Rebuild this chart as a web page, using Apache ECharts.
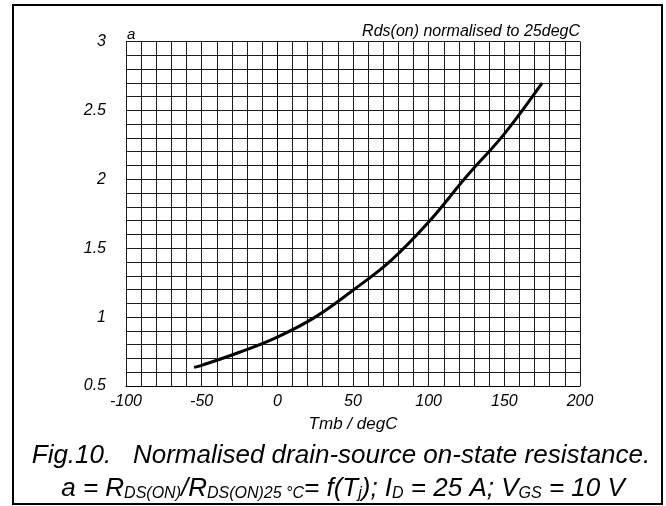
<!DOCTYPE html>
<html>
<head>
<meta charset="utf-8">
<script src="https://cdn.jsdelivr.net/npm/echarts@6/dist/echarts.min.js"></script>
<style>
html,body{margin:0;padding:0;background:#fff;}
#c{width:666px;height:506px;}
</style>
</head>
<body>
<div id="c"></div>
<script>
// Data
const tempC = [-55, -50, -25, 0, 25, 50, 75, 100, 125, 150, 175];
const aValues = [0.635, 0.65, 0.745, 0.855, 1.0, 1.195, 1.41, 1.69, 2.02, 2.33, 2.7];
const xTickLabels = [-100, -50, 0, 50, 100, 150, 200];
const yTickLabels = [0.5, 1, 1.5, 2, 2.5, 3];

const FONT = "'Liberation Sans', Arial, sans-serif";
const chart = echarts.init(document.getElementById('c'), null, {renderer: 'canvas'});

function isLabel(v, list) {
  return list.some(t => Math.abs(t - v) < 1e-6);
}

const option = {
  animation: false,
  backgroundColor: '#fff',
  grid: {left: 126, right: 86, top: 41.5, bottom: 120, containLabel: false},
  xAxis: {
    type: 'value', min: -100, max: 200, interval: 10,
    name: 'Tmb / degC', nameLocation: 'middle', nameGap: 30,
    nameTextStyle: {fontFamily: FONT, fontStyle: 'italic', fontSize: 17, color: '#000'},
    axisLine: {show: true, lineStyle: {color: '#000', width: 1}},
    axisTick: {show: false},
    axisLabel: {
      margin: 8, fontFamily: FONT, fontStyle: 'italic', fontSize: 16, color: '#000',
      showMinLabel: true, showMaxLabel: true, hideOverlap: false,
      formatter: v => isLabel(v, xTickLabels) ? String(Math.round(v)) : ''
    },
    splitLine: {show: true, lineStyle: {color: '#1a1a1a', width: 1}}
  },
  yAxis: {
    type: 'value', min: 0.5, max: 3, interval: 0.1,
    axisLine: {show: true, lineStyle: {color: '#000', width: 1}},
    axisTick: {show: false},
    axisLabel: {
      margin: 20, fontFamily: FONT, fontStyle: 'italic', fontSize: 16, color: '#000',
      showMinLabel: true, showMaxLabel: true, hideOverlap: false,
      formatter: v => {
        const f = yTickLabels.find(t => Math.abs(t - v) < 1e-6);
        return f === undefined ? '' : String(f);
      }
    },
    splitLine: {show: true, lineStyle: {color: '#1a1a1a', width: 1}}
  },
  series: [{
    type: 'line',
    data: tempC.map((t, i) => [t, aValues[i]]),
    smooth: 0.4,
    showSymbol: false,
    lineStyle: {color: '#000', width: 3},
    z: 5
  }],
  graphic: [
    {type: 'rect', shape: {x: 13, y: 5, width: 649, height: 499},
     style: {fill: 'none', stroke: '#000', lineWidth: 2}, z: 10, silent: true},
    {type: 'text', left: 127, top: 27,
     style: {text: 'a', font: 'italic 15px ' + FONT, fill: '#000'}},
    {type: 'text', right: 86, top: 24,
     style: {text: 'Rds(on) normalised to 25degC', font: 'italic 16px ' + FONT, fill: '#000', textAlign: 'right'}},
    {type: 'text', x: 341, y: 456,
     style: {text: 'Fig.10.   Normalised drain-source on-state resistance.', font: 'italic 26px ' + FONT,
             fill: '#000', textAlign: 'center', textVerticalAlign: 'middle'}},
    {type: 'text', x: 343, y: 487,
     style: {
       text: '{n|a = R}{s|DS(ON)}{n|/R}{s|DS(ON)25 °C}{n|= f(T}{s|j}{n|); I}{s|D}{n| = 25 A; V}{s|GS}{n| = 10 V}',
       textAlign: 'center', textVerticalAlign: 'middle', fill: '#000',
       rich: {
         n: {font: 'italic 26px ' + FONT, fill: '#000', lineHeight: 30, verticalAlign: 'bottom'},
         s: {font: 'italic 16px ' + FONT, fill: '#000', lineHeight: 14, verticalAlign: 'bottom'}
       }
     }}
  ]
};
chart.setOption(option);
</script>
</body>
</html>
